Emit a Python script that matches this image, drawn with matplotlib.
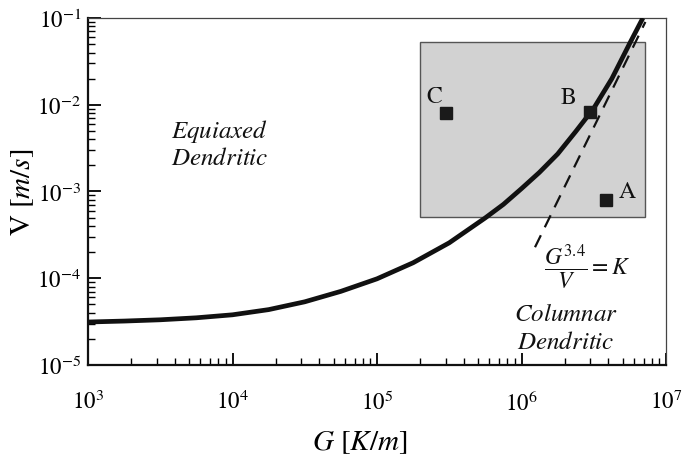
import numpy as np
import matplotlib
matplotlib.use("Agg")
import matplotlib.pyplot as plt
from matplotlib.patches import Rectangle
from matplotlib.ticker import LogLocator, FixedLocator, FixedFormatter, NullFormatter

plt.rcParams['font.family'] = ['serif']
plt.rcParams['font.serif'] = ['Liberation Serif', 'STIXGeneral', 'DejaVu Serif']
plt.rcParams['mathtext.fontset'] = 'stix'

# ---- data ----
curve_G = [1e3, 1.78e3, 3.16e3, 5.62e3, 1e4, 1.78e4, 3.16e4, 5.62e4, 1e5, 1.78e5,
           3.16e5, 5.62e5, 7.5e5, 1e6, 1.33e6, 1.78e6, 2.37e6, 3.16e6, 4.22e6,
           5.62e6, 6.92e6]
curve_V = [3.13e-5, 3.21e-5, 3.32e-5, 3.50e-5, 3.79e-5, 4.35e-5, 5.35e-5, 7.06e-5,
           9.85e-5, 1.51e-4, 2.56e-4, 4.97e-4, 7.11e-4, 1.08e-3, 1.66e-3, 2.71e-3,
           4.9e-3, 9.09e-3, 2.0e-2, 5.13e-2, 0.1]

point_labels = ['A', 'B', 'C']
point_G = [3.85e6, 3.0e6, 3.0e5]
point_V = [8.0e-4, 8.3e-3, 8.0e-3]

rect_G = [2.0e5, 7.2e6]
rect_V = [5.1e-4, 5.3e-2]

dash_exponent = 3.4
dash_logK = 24.36
dash_G_range = [1.24e6, 7.2e6]

x_ticks = [1e3, 1e4, 1e5, 1e6, 1e7]
x_ticklabels = [r'$10^{3}$', r'$10^{4}$', r'$10^{5}$', r'$10^{6}$', r'$10^{7}$']
y_ticks = [1e-5, 1e-4, 1e-3, 1e-2, 1e-1]
y_ticklabels = [r'$10^{\mathsf{-}5}$', r'$10^{\mathsf{-}4}$', r'$10^{\mathsf{-}3}$',
                r'$10^{\mathsf{-}2}$', r'$10^{\mathsf{-}1}$']

# ---- figure ----
fig = plt.figure(figsize=(6.85, 4.6), dpi=100)
ax = fig.add_axes([88/685, 1-366/460, (666-88)/685, (366-19)/460])
ax.set_xscale('log')
ax.set_yscale('log')
ax.set_xlim(1e3, 1e7)
ax.set_ylim(1e-5, 1e-1)

# gray region
ax.add_patch(Rectangle((rect_G[0], rect_V[0]), rect_G[1]-rect_G[0], rect_V[1]-rect_V[0],
                       facecolor='#d2d2d2', edgecolor='#555555', linewidth=1.0, zorder=1))

# dashed line G^3.4 / V = K
dG = np.geomspace(dash_G_range[0], dash_G_range[1], 50)
dV = dG**dash_exponent / 10**dash_logK
ax.plot(dG, dV, color='#111111', lw=1.6, dashes=(6, 4), zorder=2)

# main curve
ax.plot(curve_G, curve_V, color='#111111', lw=3.4, solid_joinstyle='round',
        solid_capstyle='butt', zorder=3)

# points
ax.plot(point_G, point_V, 's', color='#1a1a1a', markersize=8.5, zorder=4)
label_off = {'A': (15, 6), 'B': (-16, 10), 'C': (-8, 12)}
for lab, g, v in zip(point_labels, point_G, point_V):
    ax.annotate(r'$\mathrm{%s}$' % lab, (g, v), xytext=label_off[lab],
                textcoords='offset points', ha='center', va='center',
                fontsize=17, color='#111111')

# texts
ax.text(8.2e3, 5.1e-3, r'$\mathit{Equiaxed}$', fontsize=18,
        ha='center', va='center', color='#111111')
ax.text(8.2e3, 2.43e-3, r'$\mathit{Dendritic}$', fontsize=18,
        ha='center', va='center', color='#111111')
ax.text(2.03e6, 3.9e-5, r'$\mathit{Columnar}$', fontsize=18,
        ha='center', va='center', color='#111111')
ax.text(2.03e6, 1.85e-5, r'$\mathit{Dendritic}$', fontsize=18,
        ha='center', va='center', color='#111111')
ax.text(2.85e6, 1.4e-4, r'$\dfrac{G^{3.4}}{V} = K$', fontsize=17,
        ha='center', va='center', color='#111111')

# ticks
ax.xaxis.set_major_locator(FixedLocator(x_ticks))
ax.xaxis.set_major_formatter(FixedFormatter(x_ticklabels))
ax.yaxis.set_major_locator(FixedLocator(y_ticks))
ax.yaxis.set_major_formatter(FixedFormatter(y_ticklabels))
ax.xaxis.set_minor_locator(LogLocator(base=10, subs=np.arange(2, 10)))
ax.yaxis.set_minor_locator(LogLocator(base=10, subs=np.arange(2, 10)))
ax.xaxis.set_minor_formatter(NullFormatter())
ax.yaxis.set_minor_formatter(NullFormatter())
ax.tick_params(which='major', direction='in', length=9, width=1.3, labelsize=16.5,
               top=False, right=False)
ax.tick_params(which='minor', direction='in', length=5, width=1.0, top=False, right=False)
ax.tick_params(axis='x', which='major', pad=18)
ax.tick_params(axis='y', which='major', pad=5)

for s in ['left', 'bottom']:
    ax.spines[s].set_linewidth(1.6)
    ax.spines[s].set_color('#111111')
for s in ['top', 'right']:
    ax.spines[s].set_linewidth(0.9)
    ax.spines[s].set_color('#444444')

ax.set_xlabel(r'$G\ [K/m]$', fontsize=21)
ax.set_ylabel(r'$\mathrm{V}\ [m/s]$', fontsize=21)
ax.xaxis.set_label_coords((360 - 88) / 578, (366 - 429) / 347)
ax.yaxis.set_label_coords((36 - 88) / 578, 0.5)

fig.savefig('out.png', dpi=100)
